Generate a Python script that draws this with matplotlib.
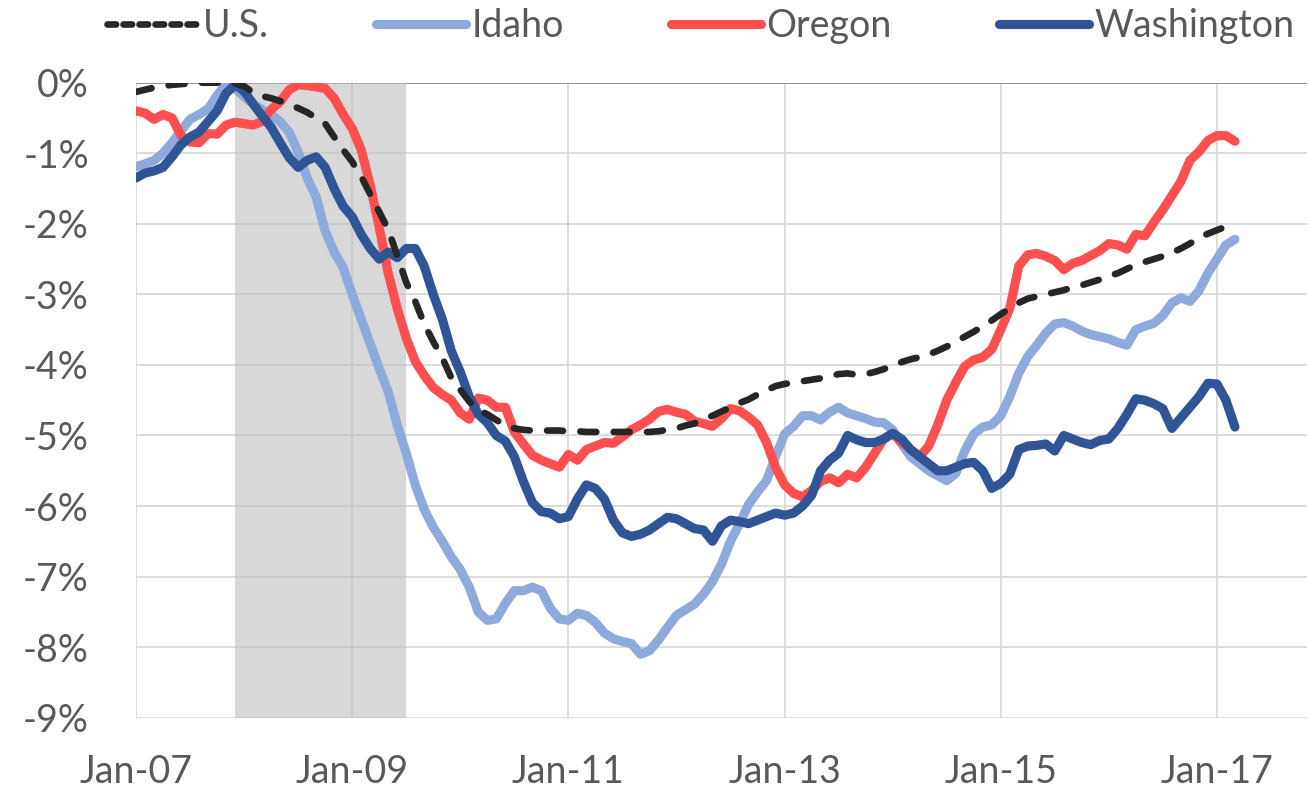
import numpy as np
import matplotlib
matplotlib.use("Agg")
import matplotlib.pyplot as plt
from matplotlib.lines import Line2D

plt.rcParams['font.family'] = ['Lato', 'DejaVu Sans']

# monthly values, Jan-2007 .. Mar-2017 (% below pre-recession peak)
us = [-0.13, -0.10, -0.07, -0.05, -0.03, -0.02, -0.01, 0.00, 0.00, 0.00,
      0.00, -0.01, -0.05, -0.14, -0.19, -0.22, -0.26, -0.31, -0.36, -0.42,
      -0.50, -0.58, -0.77, -0.95, -1.12, -1.33, -1.58, -1.83, -2.08, -2.45,
      -2.83, -3.10, -3.42, -3.67, -3.90, -4.18, -4.35, -4.52, -4.64, -4.70,
      -4.78, -4.86, -4.90, -4.92, -4.93, -4.93, -4.93, -4.93, -4.94, -4.94,
      -4.95, -4.95, -4.95, -4.95, -4.95, -4.95, -4.95, -4.95, -4.94, -4.92,
      -4.90, -4.86, -4.83, -4.77, -4.72, -4.66, -4.60, -4.54, -4.49, -4.42,
      -4.36, -4.30, -4.27, -4.25, -4.23, -4.21, -4.19, -4.16, -4.13, -4.12,
      -4.14, -4.13, -4.10, -4.06, -4.01, -3.96, -3.92, -3.89, -3.85, -3.80,
      -3.74, -3.67, -3.60, -3.53, -3.45, -3.37, -3.28, -3.20, -3.12, -3.06,
      -3.03, -3.00, -2.97, -2.94, -2.90, -2.87, -2.83, -2.79, -2.74, -2.70,
      -2.64, -2.58, -2.54, -2.50, -2.46, -2.41, -2.35, -2.28, -2.20, -2.14,
      -2.09, -2.04, -1.99]

idaho = [-1.19, -1.15, -1.10, -1.00, -0.85, -0.68, -0.52, -0.45, -0.37, -0.18,
         -0.02, -0.08, -0.20, -0.30, -0.38, -0.45, -0.55, -0.70, -0.98, -1.35,
         -1.62, -2.10, -2.40, -2.62, -3.00, -3.35, -3.70, -4.05, -4.38, -4.85,
         -5.25, -5.70, -6.05, -6.30, -6.50, -6.72, -6.90, -7.15, -7.50, -7.62,
         -7.60, -7.38, -7.20, -7.20, -7.15, -7.20, -7.45, -7.60, -7.62, -7.52,
         -7.55, -7.65, -7.80, -7.88, -7.92, -7.95, -8.10, -8.05, -7.90, -7.72,
         -7.55, -7.47, -7.39, -7.25, -7.07, -6.82, -6.50, -6.25, -5.98, -5.80,
         -5.64, -5.30, -4.98, -4.87, -4.72, -4.72, -4.78, -4.67, -4.60, -4.68,
         -4.72, -4.76, -4.81, -4.82, -4.92, -5.12, -5.30, -5.40, -5.50, -5.57,
         -5.64, -5.54, -5.22, -4.98, -4.88, -4.85, -4.72, -4.45, -4.12, -3.88,
         -3.72, -3.55, -3.42, -3.40, -3.45, -3.52, -3.57, -3.60, -3.63, -3.68,
         -3.72, -3.50, -3.45, -3.41, -3.30, -3.12, -3.05, -3.10, -2.95, -2.70,
         -2.50, -2.30, -2.22]

oregon = [-0.40, -0.43, -0.52, -0.45, -0.50, -0.75, -0.84, -0.85, -0.72, -0.73,
          -0.60, -0.56, -0.58, -0.60, -0.55, -0.38, -0.27, -0.10, -0.03, -0.04,
          -0.06, -0.08, -0.22, -0.45, -0.65, -0.95, -1.45, -2.05, -2.70, -3.20,
          -3.62, -3.95, -4.15, -4.32, -4.42, -4.50, -4.68, -4.77, -4.47, -4.50,
          -4.60, -4.60, -4.95, -5.12, -5.28, -5.35, -5.40, -5.45, -5.27, -5.35,
          -5.20, -5.15, -5.10, -5.11, -5.02, -4.92, -4.85, -4.77, -4.66, -4.63,
          -4.67, -4.70, -4.80, -4.83, -4.87, -4.76, -4.62, -4.65, -4.74, -4.85,
          -5.10, -5.45, -5.70, -5.82, -5.87, -5.78, -5.65, -5.60, -5.67, -5.55,
          -5.60, -5.45, -5.25, -5.05, -4.97, -5.10, -5.20, -5.30, -5.15, -4.85,
          -4.50, -4.25, -4.02, -3.93, -3.89, -3.78, -3.50, -3.20, -2.60, -2.44,
          -2.42, -2.46, -2.52, -2.65, -2.56, -2.52, -2.45, -2.38, -2.28, -2.30,
          -2.36, -2.15, -2.17, -1.98, -1.80, -1.60, -1.40, -1.10, -0.98, -0.82,
          -0.75, -0.75, -0.83]

washington = [-1.35, -1.28, -1.25, -1.20, -1.05, -0.88, -0.77, -0.70, -0.55, -0.40,
              -0.15, -0.03, -0.12, -0.30, -0.47, -0.63, -0.85, -1.06, -1.20, -1.10,
              -1.05, -1.20, -1.50, -1.75, -1.90, -2.15, -2.35, -2.50, -2.40, -2.48,
              -2.35, -2.35, -2.60, -3.00, -3.35, -3.80, -4.10, -4.45, -4.70, -4.82,
              -5.00, -5.08, -5.30, -5.65, -5.95, -6.08, -6.10, -6.18, -6.15, -5.90,
              -5.70, -5.75, -5.90, -6.20, -6.38, -6.43, -6.40, -6.34, -6.25, -6.16,
              -6.18, -6.25, -6.32, -6.34, -6.50, -6.28, -6.20, -6.22, -6.25, -6.20,
              -6.15, -6.10, -6.13, -6.10, -6.00, -5.85, -5.50, -5.35, -5.25, -5.00,
              -5.06, -5.10, -5.10, -5.05, -4.97, -5.05, -5.20, -5.30, -5.40, -5.50,
              -5.50, -5.45, -5.40, -5.38, -5.50, -5.75, -5.68, -5.55, -5.20, -5.15,
              -5.14, -5.12, -5.22, -5.00, -5.05, -5.10, -5.13, -5.07, -5.05, -4.90,
              -4.70, -4.48, -4.50, -4.55, -4.62, -4.90, -4.75, -4.60, -4.45, -4.26,
              -4.27, -4.50, -4.88]

tick_labels = ["Jan-07", "Jan-09", "Jan-11", "Jan-13", "Jan-15", "Jan-17"]
tick_months = [0, 24, 48, 72, 96, 120]
y_ticks = [0, -1, -2, -3, -4, -5, -6, -7, -8, -9]
recession = (11, 30)   # Dec-2007 .. Jun-2009 (month index)

series_names = ["U.S.", "Idaho", "Oregon", "Washington"]
colors = ["#262626", "#8EA9DB", "#FF4F4F", "#2F5597"]

W, H = 1309, 792
fig = plt.figure(figsize=(W / 100, H / 100), dpi=100)
ax = fig.add_axes([136 / W, 1 - 717.7 / H, (1307 - 136) / W, (717.7 - 82.7) / H])

ax.set_xlim(0, 130)
ax.set_ylim(-9, 0)

# gridlines
for yv in y_ticks:
    ax.axhline(yv, color="#D9D9D9", lw=1.3, zorder=1)
for xv in tick_months:
    ax.axvline(xv, color="#D9D9D9", lw=1.3, zorder=1)
ax.axhline(0, color="#8C8C8C", lw=1.3, zorder=1.5)

# recession shading
ax.axvspan(recession[0] - 0.06, recession[1] - 0.06, color="#BFBFBF", alpha=0.6,
           lw=0, zorder=2)

LW = 6.6
x = np.arange(len(us))
ax.plot(x, idaho, color=colors[1], lw=LW, solid_capstyle="round",
        solid_joinstyle="round", zorder=3)
ax.plot(x, oregon, color=colors[2], lw=LW, solid_capstyle="round",
        solid_joinstyle="round", zorder=4)
ax.plot(x, washington, color=colors[3], lw=LW, solid_capstyle="round",
        solid_joinstyle="round", zorder=5)
ax.plot(x, us, color=colors[0], lw=4.8, dashes=(2.4, 2.6),
        dash_capstyle="round", zorder=6)

for s in ax.spines.values():
    s.set_visible(False)

ax.set_xticks(tick_months)
ax.set_xticklabels(tick_labels)
ax.set_yticks(y_ticks)
ax.set_yticklabels([f"{v}%" for v in y_ticks])
ax.tick_params(axis="both", length=0, labelsize=27, labelcolor="#595959")
ax.tick_params(axis="x", pad=26)
ax.tick_params(axis="y", pad=34)

handles = [
    Line2D([], [], color=colors[0], lw=4.8, dashes=(1.3, 1.1), dash_capstyle="round"),
    Line2D([], [], color=colors[1], lw=LW, solid_capstyle="round"),
    Line2D([], [], color=colors[2], lw=LW, solid_capstyle="round"),
    Line2D([], [], color=colors[3], lw=LW, solid_capstyle="round"),
]
leg = fig.legend(handles, series_names, loc="center", ncol=4,
                 bbox_to_anchor=(701 / W, 1 - 26 / H), frameon=False,
                 fontsize=27, handlelength=2.4, handletextpad=0.15,
                 columnspacing=2.85, borderpad=0, borderaxespad=0)
for t in leg.get_texts():
    t.set_color("#595959")

fig.savefig("out.png", dpi=100)
